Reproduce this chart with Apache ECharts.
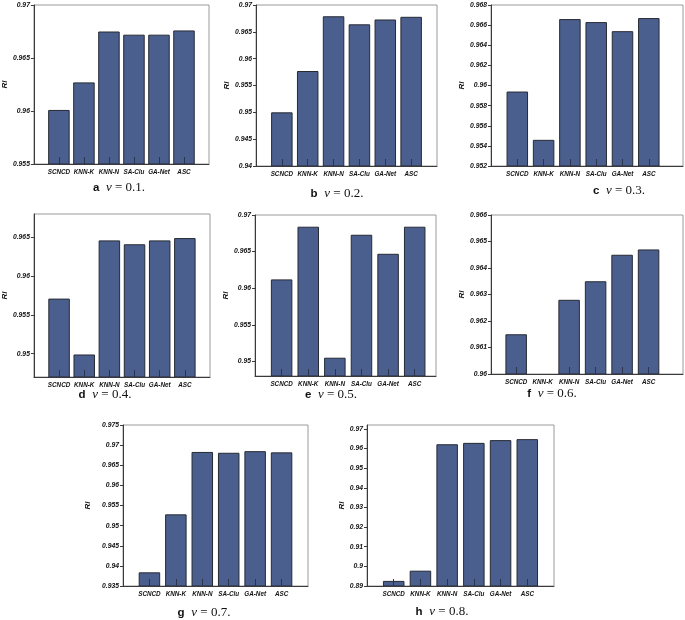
<!DOCTYPE html>
<html>
<head>
<meta charset="utf-8">
<script src="https://cdn.jsdelivr.net/npm/echarts@6/dist/echarts.min.js"></script>
<style>html,body{margin:0;padding:0;background:#fff}#c{width:685px;height:620px}</style>
</head>
<body>
<div id="c"></div>
<script>
// ---- data ----
var categories = ['SCNCD', 'KNN-K', 'KNN-N', 'SA-Clu', 'GA-Net', 'ASC'];
var panelLetters = ['a', 'b', 'c', 'd', 'e', 'f', 'g', 'h'];
var nuValues = ['0.1', '0.2', '0.3', '0.4', '0.5', '0.6', '0.7', '0.8'];

var riNu01 = [0.9601, 0.9627, 0.9675, 0.9672, 0.9672, 0.9676];
var riNu02 = [0.9500, 0.9577, 0.9679, 0.9664, 0.9673, 0.9678];
var riNu03 = [0.9594, 0.9546, 0.9666, 0.9663, 0.9654, 0.9667];
var riNu04 = [0.9571, 0.9499, 0.9646, 0.9641, 0.9646, 0.9649];
var riNu05 = [0.9612, 0.9684, 0.9505, 0.9673, 0.9647, 0.9684];
var riNu06 = [0.9615, null, 0.9628, 0.9635, 0.9645, 0.9647]; // KNN-K below axis minimum
var riNu07 = [0.9384, 0.9528, 0.9683, 0.9681, 0.9685, 0.9682];
var riNu08 = [0.8926, 0.8978, 0.9622, 0.9629, 0.9643, 0.9648];

var ticksNu01 = [0.955, 0.96, 0.965, 0.97];
var ticksNu02 = [0.94, 0.945, 0.95, 0.955, 0.96, 0.965, 0.97];
var ticksNu03 = [0.952, 0.954, 0.956, 0.958, 0.96, 0.962, 0.964, 0.966, 0.968];
var ticksNu04 = [0.95, 0.955, 0.96, 0.965];
var ticksNu05 = [0.95, 0.955, 0.96, 0.965, 0.97];
var ticksNu06 = [0.96, 0.961, 0.962, 0.963, 0.964, 0.965, 0.966];
var ticksNu07 = [0.935, 0.94, 0.945, 0.95, 0.955, 0.96, 0.965, 0.97, 0.975];
var ticksNu08 = [0.89, 0.9, 0.91, 0.92, 0.93, 0.94, 0.95, 0.96, 0.97];

var seriesList = [riNu01, riNu02, riNu03, riNu04, riNu05, riNu06, riNu07, riNu08];
var tickList = [ticksNu01, ticksNu02, ticksNu03, ticksNu04, ticksNu05, ticksNu06, ticksNu07, ticksNu08];

// ---- layout (positions / axis ranges) ----
var layout = [
  {l: 25,  t: 5,   r: 209, b: 164, yMin: 0.955, yMax: 0.970, xMin: -1, xMax: 6,   gap: 18, cx: 119, cy: 188},
  {l: 256, t: 5,   r: 437, b: 166, yMin: 0.940, yMax: 0.970, xMin: -1, xMax: 6,   gap: 18, cx: 337, cy: 194},
  {l: 491, t: 5,   r: 683, b: 166, yMin: 0.952, yMax: 0.968, xMin: -1, xMax: 6.3, gap: 17, cx: 619, cy: 191},
  {l: 25,  t: 214, r: 210, b: 377, yMin: 0.947, yMax: 0.968, xMin: -1, xMax: 6,   gap: 18, cx: 105, cy: 394.5},
  {l: 255, t: 215, r: 436, b: 376, yMin: 0.948, yMax: 0.970, xMin: -1, xMax: 5.8, gap: 15, cx: 331, cy: 394.5},
  {l: 491, t: 215, r: 683, b: 374, yMin: 0.960, yMax: 0.966, xMin: -0.95, xMax: 6.3, gap: 16, cx: 552, cy: 394},
  {l: 123, t: 425, r: 308, b: 586, yMin: 0.935, yMax: 0.975, xMin: -1, xMax: 6,   gap: 31, cx: 204, cy: 613},
  {l: 367, t: 425, r: 554, b: 586, yMin: 0.890, yMax: 0.972, xMin: -1, xMax: 6,   gap: 16, cx: 442, cy: 612}
];

var tickFont = "'Liberation Sans', Arial, sans-serif";
var grids = [], xAxes = [], yAxes = [], series = [], graphics = [];

layout.forEach(function (p, k) {
  var vals = seriesList[k];
  grids.push({
    left: p.l, top: p.t, width: p.r - p.l, height: p.b - p.t,
    show: true, borderColor: '#9a9a9a', borderWidth: 1, backgroundColor: 'transparent'
  });
  var tickIdx = [];
  vals.forEach(function (v, i) { if (v !== null) tickIdx.push(i); });
  xAxes.push({
    gridIndex: k, type: 'value', min: p.xMin, max: p.xMax, z: 5,
    splitLine: {show: false},
    axisLine: {show: true, onZero: false, lineStyle: {color: '#3a3a3a', width: 1}},
    axisTick: {show: true, inside: true, length: 7, customValues: tickIdx,
               lineStyle: {color: '#2c3550', width: 1}},
    axisLabel: {
      customValues: categories.map(function (c, i) { return i; }),
      formatter: function (v) { return categories[Math.round(v)] || ''; },
      color: '#111', fontFamily: tickFont, fontStyle: 'italic', fontWeight: 'bold',
      fontSize: 6.3, margin: 5
    }
  });
  yAxes.push({
    gridIndex: k, type: 'value', min: p.yMin, max: p.yMax, z: 5,
    name: 'RI', nameLocation: 'middle', nameGap: p.gap,
    nameTextStyle: {color: '#111', fontFamily: tickFont, fontStyle: 'italic', fontWeight: 'bold', fontSize: 8},
    splitLine: {show: false},
    axisLine: {show: true, onZero: false, lineStyle: {color: '#3a3a3a', width: 1}},
    axisTick: {show: true, inside: false, length: 3, customValues: tickList[k],
               lineStyle: {color: '#3a3a3a'}},
    axisLabel: {
      customValues: tickList[k],
      formatter: function (v) { return String(parseFloat(Number(v).toFixed(4))); },
      color: '#111', fontFamily: tickFont, fontStyle: 'italic', fontWeight: 'bold',
      fontSize: 6.8, margin: 4
    }
  });
  series.push({
    type: 'bar', xAxisIndex: k, yAxisIndex: k, barWidth: 21.5, clip: true,
    silent: true, animation: false,
    itemStyle: {color: '#4b5f8f', borderColor: '#262a33', borderWidth: 1},
    data: vals.map(function (v, i) { return [i, v]; })
  });
  graphics.push({
    type: 'text', x: p.cx, y: p.cy,
    style: {
      text: '{l|' + panelLetters[k] + '}  {n|ν} {r|= ' + nuValues[k] + '.}',
      align: 'center', verticalAlign: 'middle',
      rich: {
        l: {fontFamily: "'Liberation Sans', Arial, sans-serif", fontWeight: 'bold', fontSize: 11.5, fill: '#111'},
        n: {fontFamily: "'Liberation Serif', 'DejaVu Serif', serif", fontStyle: 'italic', fontSize: 13, fill: '#111'},
        r: {fontFamily: "'Liberation Serif', 'DejaVu Serif', serif", fontSize: 13, fill: '#111'}
      }
    }
  });
});

var chart = echarts.init(document.getElementById('c'), null, {renderer: 'canvas'});
chart.setOption({
  animation: false,
  grid: grids, xAxis: xAxes, yAxis: yAxes, series: series, graphic: graphics
});
</script>
</body>
</html>
